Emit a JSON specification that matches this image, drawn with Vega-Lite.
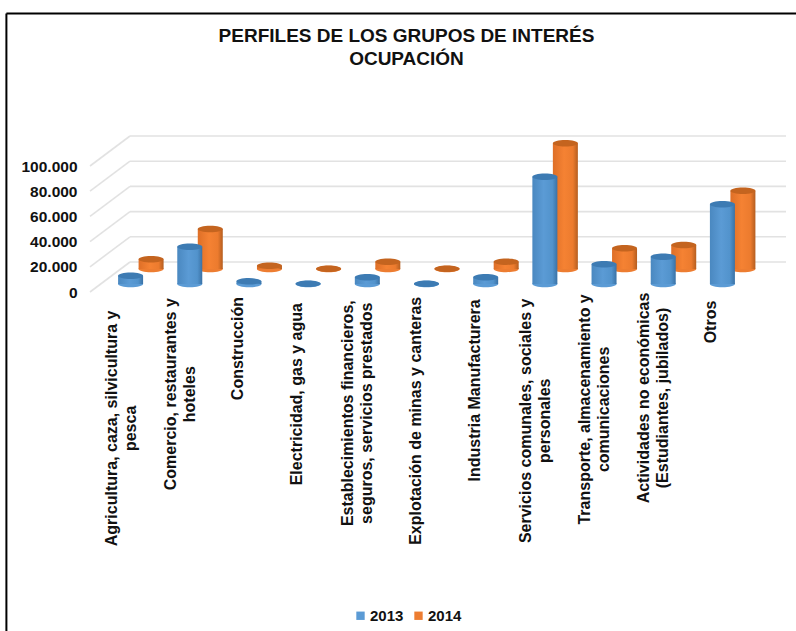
{
"$schema":"https://vega.github.io/schema/vega-lite/v6.json",
"autosize":"none",
"width":651,"height":126,
"padding":{"left":92,"top":166,"right":53,"bottom":339},
"background":"white",
"view":{"stroke":null},
"title":{"text":["PERFILES DE LOS GRUPOS DE INTERÉS","OCUPACIÓN"],"font":"Liberation Sans","fontSize":19,"fontWeight":"bold","color":"#111111","lineHeight":23,"offset":-56,"dx":-11,"anchor":"middle","frame":"group"},
"datasets":{
"grid":[{"v":0},{"v":20000},{"v":40000},{"v":60000},{"v":80000},{"v":100000}],
"d":[
{"cat":"Agricultura, caza, silvicultura y|pesca","year":"2013","value":6600},
{"cat":"Comercio, restaurantes y|hoteles","year":"2013","value":29600},
{"cat":"Construcción","year":"2013","value":2100},
{"cat":"Electricidad, gas y agua","year":"2013","value":200},
{"cat":"Establecimientos financieros,|seguros, servicios prestados","year":"2013","value":5300},
{"cat":"Explotación de minas y canteras","year":"2013","value":200},
{"cat":"Industria Manufacturera","year":"2013","value":5300},
{"cat":"Servicios comunales, sociales y|personales","year":"2013","value":85100},
{"cat":"Transporte, almacenamiento y|comunicaciones","year":"2013","value":15600},
{"cat":"Actividades no económicas|(Estudiantes, jubilados)","year":"2013","value":21700},
{"cat":"Otros","year":"2013","value":63300},
{"cat":"Agricultura, caza, silvicultura y|pesca","year":"2014","value":7700},
{"cat":"Comercio, restaurantes y|hoteles","year":"2014","value":31700},
{"cat":"Construcción","year":"2014","value":2600},
{"cat":"Electricidad, gas y agua","year":"2014","value":100},
{"cat":"Establecimientos financieros,|seguros, servicios prestados","year":"2014","value":5800},
{"cat":"Explotación de minas y canteras","year":"2014","value":200},
{"cat":"Industria Manufacturera","year":"2014","value":5800},
{"cat":"Servicios comunales, sociales y|personales","year":"2014","value":99800},
{"cat":"Transporte, almacenamiento y|comunicaciones","year":"2014","value":16400},
{"cat":"Actividades no económicas|(Estudiantes, jubilados)","year":"2014","value":19000},
{"cat":"Otros","year":"2014","value":62100}
]},
"data":{"name":"d"},
"resolve":{"scale":{"x":"independent"},"axis":{"x":"independent","y":"independent"}},
"layer":[
{"data":{"name":"grid"},"mark":{"type":"rule","color":"#e2e2e2","strokeWidth":1.6,"yOffset":0,"y2Offset":-30,"xOffset":-2,"x2Offset":-2},
 "encoding":{
  "x":{"datum":0,"type":"quantitative","scale":{"domain":[0,16.275],"nice":false,"zero":false},"axis":null},
  "x2":{"datum":1},
  "y":{"field":"v","type":"quantitative","scale":{"domain":[0,100000],"nice":false},"axis":{"title":null,"values":[0,20000,40000,60000,80000,100000],"domain":false,"ticks":false,"grid":false,"labelPadding":15,"labelFont":"Liberation Sans","labelFontSize":15.5,"labelFontWeight":"bold","labelColor":"#111111","labelExpr":"replace(format(datum.value,','),',','.')"}},
  "y2":{"field":"v"}}},
{"data":{"name":"grid"},"mark":{"type":"rule","color":"#e2e2e2","strokeWidth":1.6,"yOffset":-30,"y2Offset":-30,"xOffset":-2,"x2Offset":-2},
 "encoding":{
  "x":{"datum":1,"type":"quantitative","scale":{"domain":[0,16.275],"nice":false,"zero":false},"axis":null},
  "x2":{"datum":17.4},
  "y":{"field":"v","type":"quantitative","axis":null},
  "y2":{"field":"v"}}},
{"data":{"values":[{"frame":"top"}]},"mark":{"type":"rule","color":"#000000","strokeWidth":2},
 "encoding":{
  "x":{"datum":-2.14,"type":"quantitative","scale":{"domain":[0,16.275],"nice":false,"zero":false},"axis":null},
  "x2":{"datum":17.6},
  "y":{"datum":221000,"type":"quantitative","axis":null}}},
{"data":{"values":[{"frame":"left"}]},"mark":{"type":"rule","color":"#000000","strokeWidth":2},
 "encoding":{
  "x":{"datum":-2.14,"type":"quantitative","scale":{"domain":[0,16.275],"nice":false,"zero":false},"axis":null},
  "y":{"datum":221000,"type":"quantitative","axis":null},
  "y2":{"datum":-270000}}},

{"transform":[{"filter":"datum.year=='2014'"}],"mark":{"type":"point","filled":true,"opacity":1,"size":625,"shape":"M -1 0 A 1 0.26 0 1 1 1 0 A 1 0.26 0 1 1 -1 0 Z","xOffset":29.5,"yOffset":-23},
 "encoding":{
  "x":{"field":"cat","type":"nominal","sort":null,"scale":{"type":"band","paddingInner":0,"paddingOuter":0},"axis":null},
  "y":{"datum":0,"type":"quantitative","axis":null},
  "color":{"field":"year","type":"nominal","scale":{"domain":["2013","2014"],"range":["#5b9bd5","#ed7d31"]},
   "legend":{"title":null,"orient":"none","legendX":261,"legendY":442,"direction":"horizontal","symbolType":"square","symbolSize":70,"labelFont":"Liberation Sans","labelFontSize":15,"labelFontWeight":"bold","labelColor":"#111111","labelOffset":2,"columnPadding":7}}}},
{"transform":[{"filter":"datum.year=='2014'"}],"mark":{"type":"bar","width":25,"xOffset":29.5,"yOffset":-23,"y2Offset":-23,
  "color":{"gradient":"linear","x1":0,"y1":0,"x2":1,"y2":0,"stops":[{"offset":0,"color":"#de6f27"},{"offset":0.45,"color":"#f58233"},{"offset":0.8,"color":"#ec7b2e"},{"offset":1,"color":"#b55e20"}]}},
 "encoding":{
  "x":{"field":"cat","type":"nominal","sort":null,"scale":{"type":"band","paddingInner":0,"paddingOuter":0},"axis":null},
  "y":{"field":"value","type":"quantitative","axis":null},
  "y2":{"datum":0}}},
{"transform":[{"filter":"datum.year=='2014'"}],"mark":{"type":"point","filled":true,"opacity":1,"color":"#c4641f","size":625,"shape":"M -1 0 A 1 0.26 0 1 1 1 0 A 1 0.26 0 1 1 -1 0 Z","xOffset":29.5,"yOffset":-23},
 "encoding":{
  "x":{"field":"cat","type":"nominal","sort":null,"scale":{"type":"band","paddingInner":0,"paddingOuter":0},"axis":null},
  "y":{"field":"value","type":"quantitative","axis":null}}},

{"transform":[{"filter":"datum.year=='2013'"}],"mark":{"type":"point","filled":true,"opacity":1,"size":625,"shape":"M -1 0 A 1 0.26 0 1 1 1 0 A 1 0.26 0 1 1 -1 0 Z","xOffset":9,"yOffset":-8},
 "encoding":{
  "x":{"field":"cat","type":"nominal","sort":null,"scale":{"type":"band","paddingInner":0,"paddingOuter":0},"axis":null},
  "y":{"datum":0,"type":"quantitative","axis":null},
  "color":{"field":"year","type":"nominal","scale":{"domain":["2013","2014"],"range":["#5b9bd5","#ed7d31"]},
   "legend":{"title":null,"orient":"none","legendX":261,"legendY":442,"direction":"horizontal","symbolType":"square","symbolSize":70,"labelFont":"Liberation Sans","labelFontSize":15,"labelFontWeight":"bold","labelColor":"#111111","labelOffset":2,"columnPadding":7}}}},
{"transform":[{"filter":"datum.year=='2013'"}],"mark":{"type":"bar","width":25,"xOffset":9,"yOffset":-8,"y2Offset":-8,
  "color":{"gradient":"linear","x1":0,"y1":0,"x2":1,"y2":0,"stops":[{"offset":0,"color":"#4a88c0"},{"offset":0.45,"color":"#5b9bd5"},{"offset":0.8,"color":"#5293cc"},{"offset":1,"color":"#3a72a6"}]}},
 "encoding":{
  "x":{"field":"cat","type":"nominal","sort":null,"scale":{"type":"band","paddingInner":0,"paddingOuter":0},"axis":null},
  "y":{"field":"value","type":"quantitative","axis":null},
  "y2":{"datum":0}}},
{"transform":[{"filter":"datum.year=='2013'"}],"mark":{"type":"point","filled":true,"opacity":1,"color":"#3d7bb3","size":625,"shape":"M -1 0 A 1 0.26 0 1 1 1 0 A 1 0.26 0 1 1 -1 0 Z","xOffset":9,"yOffset":-8},
 "encoding":{
  "x":{"field":"cat","type":"nominal","sort":null,"scale":{"type":"band","paddingInner":0,"paddingOuter":0},"axis":null},
  "y":{"field":"value","type":"quantitative","axis":null}}},

{"transform":[{"filter":"datum.year=='2013'"},{"calculate":"split(datum.cat,'|')","as":"lines"}],
 "mark":{"type":"text","angle":270,"align":"center","baseline":"middle","font":"Liberation Sans","fontSize":16,"fontWeight":"bold","color":"#111111","lineHeight":19,"yOffset":11,
   "dx":{"expr":"-3.8*max(length(datum.lines[0]),length(datum.lines[1]||''))"},
   "dy":{"expr":"length(datum.lines)>1?-10:-2"}},
 "encoding":{
  "x":{"field":"cat","type":"nominal","sort":null,"scale":{"type":"band","paddingInner":0,"paddingOuter":0},"axis":null},
  "y":{"datum":0,"type":"quantitative","axis":null},
  "text":{"field":"lines","type":"nominal"}}}
]}
